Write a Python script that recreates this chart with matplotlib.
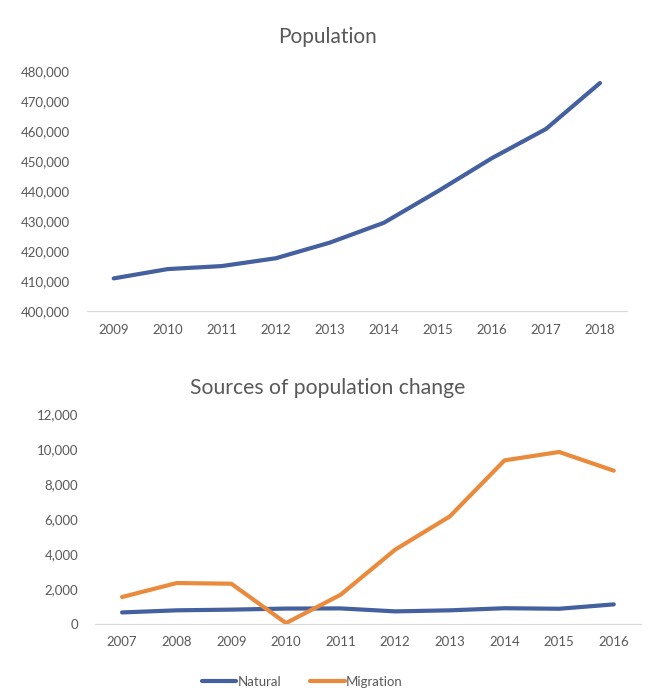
import numpy as np
import matplotlib
matplotlib.use("Agg")
import matplotlib.pyplot as plt
from matplotlib.ticker import FuncFormatter

plt.rcParams['font.family'] = ['Lato', 'DejaVu Sans']

# top chart data
pop_years = ['2009', '2010', '2011', '2012', '2013', '2014', '2015', '2016', '2017', '2018']
population = [410900, 414000, 415000, 417600, 422800, 429400, 439900, 450900, 460600, 475900]

# bottom chart data
chg_years = ['2007', '2008', '2009', '2010', '2011', '2012', '2013', '2014', '2015', '2016']
natural = [660, 780, 820, 880, 890, 720, 780, 900, 870, 1120]
migration = [1540, 2340, 2300, 50, 1670, 4250, 6150, 9350, 9830, 8760]

blue = '#44609f'
orange = '#e98a3c'
grey = '#595959'

fig = plt.figure(figsize=(6.72, 6.93), dpi=100)

def style(ax):
    for s in ['top', 'right', 'left']:
        ax.spines[s].set_visible(False)
    ax.spines['bottom'].set_color('#d9d9d9')
    ax.tick_params(axis='both', length=0, colors=grey, labelsize=9.5)
    ax.tick_params(axis='x', pad=9)
    ax.tick_params(axis='y', pad=12)
    ax.yaxis.set_major_formatter(FuncFormatter(lambda v, p: f'{int(v):,}'))

# ---- Population
ax1 = fig.add_axes([0.129, 0.551, 0.804, 0.347])
x1 = np.arange(len(pop_years))
ax1.plot(x1, population, color=blue, lw=3, solid_capstyle='round')
ax1.set_xlim(-0.5, len(pop_years) - 0.5)
ax1.set_ylim(400000, 480000)
ax1.set_yticks(range(400000, 480001, 10000))
ax1.set_xticks(x1)
ax1.set_xticklabels(pop_years)
style(ax1)
fig.text(0.488, 1 - 37 / 693, 'Population', ha='center', va='center', fontsize=15, color=grey)

# ---- Sources of population change
ax2 = fig.add_axes([0.141, 0.0996, 0.813, 0.303])
x2 = np.arange(len(chg_years))
ax2.plot(x2, natural, color=blue, lw=3, label='Natural', solid_capstyle='round')
ax2.plot(x2, migration, color=orange, lw=3, label='Migration', solid_capstyle='round')
ax2.set_xlim(-0.5, len(chg_years) - 0.5)
ax2.set_ylim(0, 12000)
ax2.set_yticks(range(0, 12001, 2000))
ax2.set_xticks(x2)
ax2.set_xticklabels(chg_years)
style(ax2)
fig.text(0.487, 1 - 388 / 693, 'Sources of population change', ha='center', va='center',
         fontsize=15.2, color=grey)

leg = fig.legend(loc='center', bbox_to_anchor=(0.45, 1 - 682 / 693), ncol=2, frameon=False,
                 fontsize=9.5, handlelength=2.6, handletextpad=0.1, columnspacing=2.2)
for t in leg.get_texts():
    t.set_color(grey)

fig.savefig('out.png', dpi=100)
